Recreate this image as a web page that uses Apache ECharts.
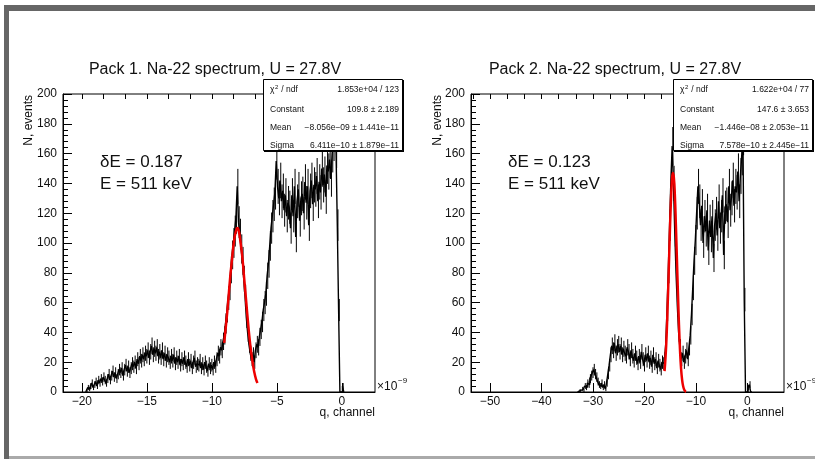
<!DOCTYPE html>
<html><head><meta charset="utf-8">
<script src="https://cdn.jsdelivr.net/npm/echarts@6/dist/echarts.min.js"></script>
<style>html,body{margin:0;padding:0;background:#fff}#c{width:815px;height:459px}</style>
</head><body><div id="c"></div>
<script>
// ---------- data (q in units of 1e-9, counts N) ----------
const leftStart = -19.7, leftStep = 0.1;
const leftCounts = [
  0, 1, 3, 2, 4, 6, 3,
  5, 7, 4, 8, 6, 9, 7, 10, 8, 6,
  9, 12, 8, 11, 14, 10, 13, 9, 12, 15,
  13, 16, 11, 15, 18, 14, 17, 13, 16, 19,
  17, 20, 16, 22, 19, 24, 21, 25, 22, 26,
  24, 28, 23, 27, 31, 25, 29, 26, 30, 24,
  27, 23, 28, 22, 26, 21, 25, 23, 20, 24,
  21, 25, 19, 23, 20, 24, 18, 22, 19, 23,
  20, 17, 22, 18, 21, 16, 20, 23, 17, 19,
  18, 21, 16, 19, 15, 20, 17, 14, 19, 16,
  18, 15, 20, 17, 22, 26, 24, 30, 28, 34,
  38, 46, 54, 63, 70, 82, 92, 100, 108, 117,
  138, 114, 106, 96, 88, 76, 64, 50, 40, 32,
  26, 22, 25, 20, 28, 32, 30, 37, 42, 47,
  55, 60, 66, 78, 86, 98, 110, 118, 126, 134,
  155, 138, 130, 142, 128, 135, 122, 132, 118, 127,
  124, 110, 132, 118, 138, 104, 128, 136, 115, 130,
  133, 120, 141, 127, 138, 112, 135, 142, 126, 139,
  136, 145, 128, 141, 134, 150, 139, 146, 131, 152,
  148, 156, 143, 160, 168, 178, 163, 112, 55, 0,
  0, 4, 0
];
const rightStart = -33, rightStep = 0.25;
const rightCounts = [
  0, 0, 1, 0,   2, 1, 4, 3,   6, 5, 9, 11,   13, 15, 12, 10,
  7, 5, 4, 6,   3, 5, 2, 6,   12, 18, 25, 31,   28, 33, 26, 30,
  32, 27, 31, 25,   29, 26, 24, 30,   27, 22, 28, 24,   21, 26, 23, 19,
  24, 20, 27, 22,   18, 25, 21, 26,   20, 23, 17, 25,   19, 22, 16, 21,
  18, 15, 20, 19,   22, 32, 55, 82,   112, 142, 165, 140,   108, 80, 58, 40,
  30, 22, 26, 20,   24, 28, 22, 30,   38, 52, 70, 88,   102, 120, 138, 128,
  112, 125, 100, 118,   108, 122, 95, 115,   104, 118, 90, 112,   120, 105, 128, 110,
  118, 132, 92, 124,   126, 114, 138, 122,   130, 142, 125, 138,   134, 148, 128, 145,
  158, 172, 62, 0,   0, 3, 5, 0,   0
];
// Gaussian fit curves
const leftFitQ = [-9.05,-8.9,-8.75,-8.6,-8.45,-8.3,-8.15,-8.05,-7.95,-7.8,-7.65,-7.5,-7.35,-7.2,-7.05,-6.9,-6.75,-6.6,-6.49];
const leftFitN = [33,46,60,76,89,101,108,110,109,101,90,75,60,45,32,22,14,8.5,6];
const rightFitQ = [-16.1,-15.9,-15.7,-15.5,-15.3,-15.1,-14.9,-14.7,-14.5,-14.3,-14.1,-13.9,-13.7,-13.5,-13.3,-13.1,-12.9,-12.7,-12.5,-12.3,-12.1,-11.9];
const rightFitN = [14,24,38,58,80,104,125,140,147,144,132,112,89,66,45,28,16,8.5,4,1.7,0.6,0.2];

const leftXTicks = [-20, -15, -10, -5, 0];
const rightXTicks = [-50, -40, -30, -20, -10, 0];
const leftXMinorStep = 5/3, rightXMinorStep = 10/3;
const yMax = 200, yStep = 20;

const titles = ['Pack 1. Na-22 spectrum, U = 27.8V', 'Pack 2. Na-22 spectrum, U = 27.8V'];
const notes = [['δE = 0.187', 'E = 511 keV'], ['δE = 0.123', 'E = 511 keV']];
const statLabels = ['χ', 'Constant', 'Mean', 'Sigma'];
const leftStats = ['1.853e+04 / 123', '109.8 ± 2.189', '−8.056e−09 ± 1.441e−11', '6.411e−10 ± 1.879e−11'];
const rightStats = ['1.622e+04 / 77', '147.6 ± 3.653', '−1.446e−08 ± 2.053e−11', '7.578e−10 ± 2.445e−11'];

// ---------- chart ----------
const FONT = '"Liberation Sans", Arial, Helvetica, sans-serif';
const pairs = (start, step, arr) => arr.map((v, i) => [+(start + i*step).toFixed(3), v]);
const zip = (a, b) => a.map((v, i) => [v, b[i]]);
function minors(min, max, step, anchor) {
  const out = [];
  let k = Math.ceil((min - anchor) / step - 1e-9);
  for (let v = anchor + k*step; v <= max + 1e-9; v = anchor + (++k)*step) out.push(+v.toFixed(4));
  return out;
}
const ranges = [[-21.45, 2.55], [-53.7, 7.1]];
const grids = [
  {left: 63, top: 94, width: 312, height: 298},
  {left: 471, top: 94, width: 313, height: 298}
];
const minus = v => String(v).replace('-', '−');

const xAxes = [], yAxes = [];
[[leftXTicks, leftXMinorStep], [rightXTicks, rightXMinorStep]].forEach(([ticks, ms], g) => {
  const [mn, mx] = ranges[g];
  xAxes.push({
    type: 'value', gridIndex: g, min: mn, max: mx,
    axisLine: {show: true, onZero: false, lineStyle: {color: '#000', width: 1}},
    axisTick: {show: true, inside: true, length: 9, customValues: ticks, lineStyle: {color: '#000'}},
    axisLabel: {show: true, customValues: ticks, margin: 4, fontSize: 12, fontFamily: FONT, color: '#111', formatter: minus},
    splitLine: {show: false}
  });
  xAxes.push({
    type: 'value', gridIndex: g, min: mn, max: mx,
    axisLine: {show: false, onZero: false},
    axisTick: {show: true, inside: true, length: 5, customValues: minors(mn, mx, ms, ticks[0]), lineStyle: {color: '#000'}},
    axisLabel: {show: false},
    splitLine: {show: false}
  });
  yAxes.push({
    type: 'value', gridIndex: g, min: 0, max: yMax, interval: yStep,
    axisLine: {show: true, onZero: false, lineStyle: {color: '#000', width: 1}},
    axisTick: {show: true, inside: true, length: 9, lineStyle: {color: '#000'}},
    minorTick: {show: true, splitNumber: 5, length: 5, lineStyle: {color: '#000'}},
    axisLabel: {margin: 6, fontSize: 12, fontFamily: FONT, color: '#111'},
    splitLine: {show: false}
  });
});

// statistical error bars (sqrt N) drawn per bin
const errBars = (xi, yi, data) => ({
  type: 'custom', xAxisIndex: xi, yAxisIndex: yi, data, clip: true, z: 2,
  encode: {x: 0, y: 1},
  renderItem: (params, api) => {
    const x = api.value(0), n = api.value(1), e = Math.sqrt(Math.max(n, 0));
    const p1 = api.coord([x, n - e]), p2 = api.coord([x, n + e]);
    return {type: 'line', shape: {x1: p1[0], y1: p1[1], x2: p2[0], y2: p2[1]}, style: {stroke: '#000', lineWidth: 1}};
  }
});
const leftData = pairs(leftStart, leftStep, leftCounts);
const rightData = pairs(rightStart, rightStep, rightCounts);
const series = [
  {type: 'line', xAxisIndex: 0, yAxisIndex: 0, data: leftData, step: 'middle', showSymbol: false, lineStyle: {color: '#000', width: 1.4}, z: 2},
  errBars(0, 0, leftData),
  {type: 'line', xAxisIndex: 0, yAxisIndex: 0, data: zip(leftFitQ, leftFitN), smooth: true, showSymbol: false, lineStyle: {color: '#e00', width: 2.5}, z: 3},
  {type: 'line', xAxisIndex: 2, yAxisIndex: 1, data: rightData, step: 'middle', showSymbol: false, lineStyle: {color: '#000', width: 1.4}, z: 2},
  errBars(2, 1, rightData),
  {type: 'line', xAxisIndex: 2, yAxisIndex: 1, data: zip(rightFitQ, rightFitN), smooth: true, showSymbol: false, lineStyle: {color: '#e00', width: 2.5}, z: 3}
];

const gfx = [];
// outer canvas frame
gfx.push({type: 'rect', shape: {x: 4, y: 5, width: 811, height: 6}, style: {fill: '#666'}, z: 100});
gfx.push({type: 'rect', shape: {x: 4, y: 5, width: 5, height: 454}, style: {fill: '#666'}, z: 100});
gfx.push({type: 'rect', shape: {x: 9, y: 456, width: 806, height: 3}, style: {fill: '#aaa'}, z: 100});

const txt = (x, y, text, size, align, extra) => Object.assign({
  type: 'text', x, y, z: 110,
  style: {text, font: size + 'px ' + FONT, fill: '#111', textAlign: align || 'left', textVerticalAlign: 'middle'}
}, extra || {});

[0, 1].forEach(g => {
  const gr = grids[g];
  const right = gr.left + gr.width;
  gfx.push(txt(g === 0 ? 215 : 615, 70, titles[g], 16, 'center'));
  gfx.push(txt(g === 0 ? 29 : 438, 95, 'N, events', 12, 'right', {rotation: Math.PI/2}));
  gfx.push(txt(right, 413, 'q, channel', 12, 'right'));
  gfx.push(txt(right + 2, 387, '×10', 12, 'left'));
  gfx.push(txt(right + 23, 381, '−9', 8, 'left'));
  gfx.push(txt(gr.left + 37, 162, notes[g][0], 17, 'left'));
  gfx.push(txt(gr.left + 37, 184, notes[g][1], 17, 'left'));
  // stats box
  const bx = g === 0 ? 263 : 673, by = 79, bw = 140, bh = 72;
  gfx.push({type: 'rect', shape: {x: bx + 1, y: by + 1, width: bw, height: bh}, style: {fill: '#000'}, z: 104});
  gfx.push({type: 'rect', shape: {x: bx + 0.5, y: by + 0.5, width: bw - 1, height: bh - 1}, style: {fill: '#fff', stroke: '#000', lineWidth: 1}, z: 105});
  const vals = g === 0 ? leftStats : rightStats;
  const rowY = [90, 110, 128, 146];
  rowY.forEach((ry, r) => {
    gfx.push(txt(bx + 7, ry, statLabels[r], 8.5, 'left'));
    gfx.push(txt(bx + bw - 4, ry, vals[r], 8.5, 'right'));
  });
  gfx.push(txt(bx + 12, 87, '2', 6, 'left'));
  gfx.push(txt(bx + 16, 90, ' / ndf', 8.5, 'left'));
});

const chart = echarts.init(document.getElementById('c'), null, {renderer: 'canvas'});
chart.setOption({
  backgroundColor: '#fff',
  animation: false,
  grid: grids.map(g => Object.assign({show: true, borderColor: '#000', borderWidth: 1, backgroundColor: 'transparent'}, g)),
  xAxis: xAxes,
  yAxis: yAxes,
  series,
  graphic: gfx
});
</script>
</body></html>
